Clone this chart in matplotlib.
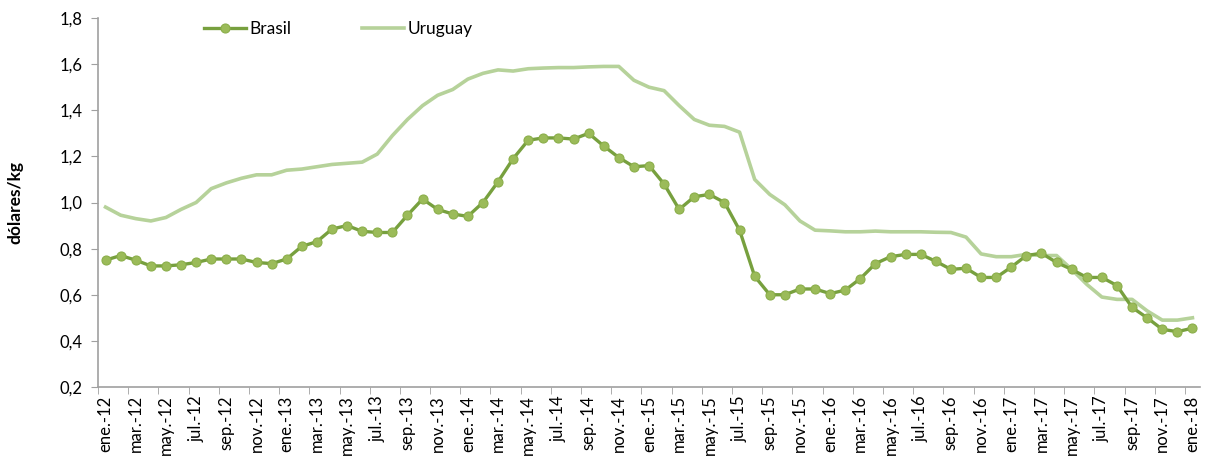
import matplotlib
matplotlib.use("Agg")
import matplotlib.pyplot as plt
import numpy as np

plt.rcParams['font.family'] = ['Lato', 'DejaVu Sans']

months = ['ene.', 'feb.', 'mar.', 'abr.', 'may.', 'jun.', 'jul.', 'ago.', 'sep.', 'oct.', 'nov.', 'dic.']
years = [12, 13, 14, 15, 16, 17]
categories = [f"{m}-{y}" for y in years for m in months] + ['ene.-18']

brasil = [0.75, 0.77, 0.75, 0.725, 0.725, 0.73, 0.74, 0.755, 0.755, 0.755, 0.74, 0.735,
          0.755, 0.81, 0.83, 0.885, 0.90, 0.875, 0.87, 0.87, 0.945, 1.015, 0.97, 0.95,
          0.94, 1.00, 1.09, 1.19, 1.27, 1.28, 1.28, 1.275, 1.30, 1.245, 1.195, 1.155,
          1.16, 1.08, 0.97, 1.025, 1.035, 1.00, 0.88, 0.68, 0.60, 0.60, 0.625, 0.625,
          0.605, 0.62, 0.67, 0.735, 0.765, 0.775, 0.775, 0.745, 0.71, 0.715, 0.675, 0.675,
          0.72, 0.77, 0.78, 0.74, 0.71, 0.675, 0.675, 0.64, 0.545, 0.50, 0.45, 0.44,
          0.455]

uruguay = [0.98, 0.945, 0.93, 0.92, 0.935, 0.97, 1.00, 1.06, 1.085, 1.105, 1.12, 1.12,
           1.14, 1.145, 1.155, 1.165, 1.17, 1.175, 1.21, 1.29, 1.36, 1.42, 1.465, 1.49,
           1.535, 1.56, 1.575, 1.57, 1.58, 1.583, 1.585, 1.585, 1.588, 1.59, 1.59, 1.53,
           1.50, 1.485, 1.42, 1.36, 1.335, 1.33, 1.305, 1.10, 1.035, 0.99, 0.92, 0.88,
           0.877, 0.873, 0.873, 0.876, 0.873, 0.873, 0.873, 0.871, 0.87, 0.85, 0.777, 0.765,
           0.765, 0.775, 0.77, 0.77, 0.71, 0.645, 0.59, 0.58, 0.58, 0.53, 0.49, 0.49,
           0.50]

yticks = [0.2, 0.4, 0.6, 0.8, 1.0, 1.2, 1.4, 1.6, 1.8]

fig = plt.figure(figsize=(12.08, 4.66), dpi=100)
ax = fig.add_axes([98/1208, 1-387/466, (1200-98)/1208, (387-18)/466])

x = np.arange(len(categories))
ax.plot(x, brasil, color='#77A03E', lw=2.4, marker='o', markersize=6.5,
        markerfacecolor='#9BBB59', markeredgecolor='#8BAE4A', markeredgewidth=0.8,
        label='Brasil', zorder=3)
ax.plot(x, uruguay, color='#B6D29A', lw=2.6, label='Uruguay', zorder=2)

ax.set_xlim(-0.5, len(categories) - 0.5)
ax.set_ylim(0.2, 1.8)
ax.set_yticks(yticks)
ax.set_yticklabels([f"{v:.1f}".replace('.', ',') for v in yticks], fontsize=12)
ax.set_xticks(x[::2])
ax.set_xticklabels(categories[::2], rotation=90, fontsize=12)
ax.set_xticks(np.arange(-0.5, len(categories) - 0.5, 2), minor=True)
ax.tick_params(axis='x', which='major', length=0, pad=6)
ax.tick_params(axis='x', which='minor', length=5, color='#A0A0A0', direction='out')
ax.tick_params(axis='y', length=5, color='#A0A0A0', direction='out', pad=6)

for s in ['top', 'right']:
    ax.spines[s].set_visible(False)
for s in ['left', 'bottom']:
    ax.spines[s].set_color('#A0A0A0')
    ax.spines[s].set_linewidth(1.2)

ax.set_ylabel('dólares/kg', fontsize=12.5, fontweight='bold', labelpad=26)

ax.legend(loc='upper center', bbox_to_anchor=(0.218, 1.035), ncol=2, frameon=False,
          fontsize=12.5, handlelength=2.4, columnspacing=4.1, handletextpad=0.2)

fig.savefig('out.png', dpi=100)
